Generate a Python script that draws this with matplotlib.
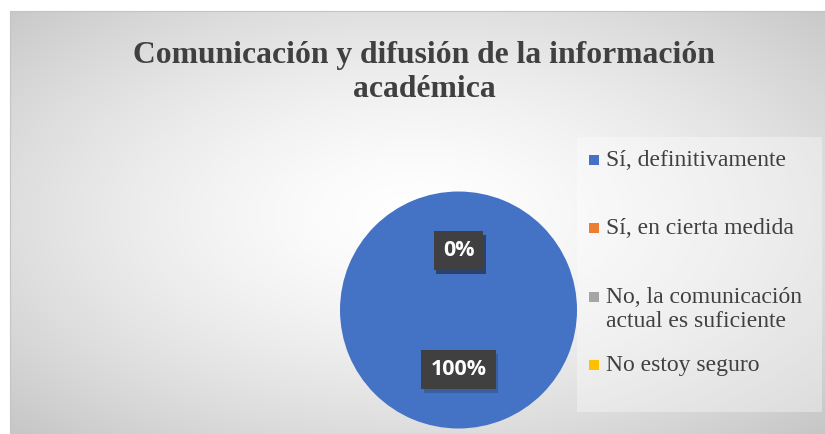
import numpy as np
import matplotlib
matplotlib.use("Agg")
import matplotlib.pyplot as plt
from matplotlib.patches import Rectangle
import matplotlib.patheffects as pe

title_lines = ["Comunicación y difusión de la información", "académica"]
categories = ["Sí, definitivamente", "Sí, en cierta medida",
              "No, la comunicación\nactual es suficiente", "No estoy seguro"]
values = [100, 0, 0, 0]
colors = ["#4472C4", "#ED7D31", "#A5A5A5", "#FFC000"]

W, H = 825, 434
fig = plt.figure(figsize=(W / 100, H / 100), dpi=100)
fig.patch.set_facecolor("white")

# background with radial gradient
bg = fig.add_axes([0, 0, 1, 1])
bg.set_xlim(0, W)
bg.set_ylim(H, 0)
bg.axis("off")
x0, x1, y0, y1 = 10, 826, 11, 435
xx, yy = np.meshgrid(np.linspace(x0, x1, 400), np.linspace(y0, y1, 220))
cx, cy = 417, 215
r = np.sqrt(((xx - cx) / 407) ** 2 + ((yy - cy) / 215) ** 2) / np.sqrt(2)
g = 1.0 - 0.22 * np.clip(r, 0, 1.2) ** 1.5
img = np.dstack([g, g, g])
bg.imshow(img, extent=(x0, x1, y1, y0), aspect="auto", interpolation="bilinear", zorder=0)
bg.plot([x0, x0, x1], [y1, y0, y0], color="#c4c4c4", lw=0.8, zorder=1)
# legend lighter box
bg.add_patch(Rectangle((577, 137), 245, 275, fc="white", alpha=0.35, ec="none", zorder=1))

for txt, yb in zip(title_lines, [63, 97]):
    fig.text(424 / W, 1 - yb / H, txt,
             ha="center", va="baseline", fontsize=22.8, fontweight="bold",
             family="Liberation Serif", color="#404040")

# pie
cxp, cyp, R = 458.5, 310, 118.5
ax = fig.add_axes([(cxp - R) / W, (H - cyp - R) / H, 2 * R / W, 2 * R / H])
wedges, texts, autotexts = ax.pie(values, colors=colors, startangle=90, counterclock=False,
                                  autopct="%1.0f%%", pctdistance=0.5,
                                  wedgeprops=dict(linewidth=0),
                                  textprops=dict(color="white", fontsize=15.5, fontweight="bold",
                                                 family="Open Sans"))
ax.set_xlim(-1, 1)
ax.set_ylim(-1, 1)
for t in autotexts:
    t.set_bbox(dict(boxstyle="square,pad=0.42", fc="#404040", ec="none"))
    t.get_bbox_patch().set_path_effects([pe.SimplePatchShadow(offset=(2, -3), alpha=0.2), pe.Normal()])

# legend
ys = [160, 228, 297, 365]
for c, lab, y in zip(colors, categories, ys):
    bg.add_patch(Rectangle((589, y - 5), 10, 10, fc=c, ec="none", zorder=3))
    bg.text(606, y - 10, lab, va="top", ha="left", fontsize=17,
            family="Liberation Serif", color="#404040", linespacing=1.2, zorder=3)

fig.savefig("out.png", dpi=100, facecolor="white")
